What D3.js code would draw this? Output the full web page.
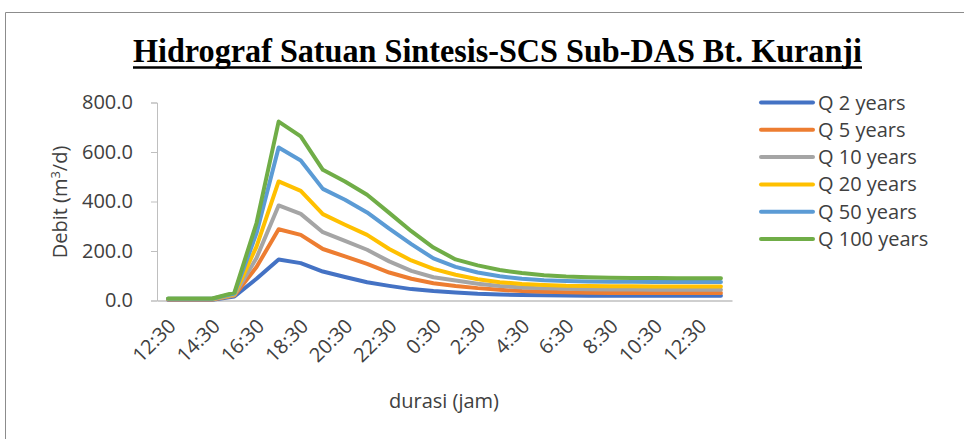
<!DOCTYPE html>
<html>
<head>
	<script src="https://cdn.jsdelivr.net/npm/d3@7"></script>
	<style>
		body { margin: 0; background: white; }
		text { font-family: "Open Sans", "Noto Sans", sans-serif; fill: #404040; }
	</style>
</head>
<body>
	<script>

		var width = 964, height = 439;

		// hourly time steps (category axis), labelled every other step
		var categories = ["12:30", "13:30", "14:30", "15:30", "16:30", "17:30", "18:30", "19:30",
		                  "20:30", "21:30", "22:30", "23:30", "0:30", "1:30", "2:30", "3:30",
		                  "4:30", "5:30", "6:30", "7:30", "8:30", "9:30", "10:30", "11:30",
		                  "12:30 ", "13:30 "];

		var seriesNames = ["Q 2 years", "Q 5 years", "Q 10 years", "Q 20 years", "Q 50 years", "Q 100 years"];
		var seriesColors = ["#4472C4", "#ED7D31", "#A5A5A5", "#FFC000", "#5B9BD5", "#70AD47"];

		var q2   = [3, 3, 3, 16, 88, 166, 151, 117, 95, 74, 59, 46, 38, 32, 27, 24, 22, 21, 20, 19, 19, 19, 19, 19, 19, 19];
		var q5   = [4, 4, 4, 20, 135, 288, 265, 208, 178, 148, 113, 88, 70, 59, 50, 43, 38, 35, 33, 31, 30, 30, 30, 30, 30, 30];
		var q10  = [5, 5, 5, 22, 172, 384, 350, 276, 241, 205, 158, 120, 94, 81, 68, 59, 53, 49, 47, 45, 44, 44, 43, 43, 43, 43];
		var q20  = [6, 6, 6, 25, 218, 481, 443, 349, 306, 265, 208, 162, 128, 104, 86, 74, 67, 63, 60, 59, 58, 58, 57, 57, 57, 57];
		var q50  = [7, 7, 7, 28, 272, 618, 566, 451, 407, 356, 290, 228, 170, 136, 113, 98, 88, 82, 79, 77, 76, 76, 75, 75, 75, 75];
		var q100 = [8, 8, 8, 32, 313, 723, 663, 528, 481, 427, 354, 280, 214, 166, 142, 123, 111, 102, 97, 94, 92, 91, 91, 90, 90, 90];

		var allSeries = [q2, q5, q10, q20, q50, q100];

		var yTicks = [0, 200, 400, 600, 800];

		var svg = d3.select("body").append("svg")
			.attr("width", width)
			.attr("height", height);

		// chart border (only top and left edges show)
		svg.append("path")
			.attr("d", "M5.5," + height + " V12.5 H" + width)
			.attr("fill", "none")
			.attr("stroke", "#8c8c8c")
			.attr("stroke-width", 1);

		// title
		svg.append("text")
			.attr("x", 133)
			.attr("y", 62)
			.attr("textLength", 729)
			.attr("lengthAdjust", "spacingAndGlyphs")
			.style("font-family", "'Liberation Serif', 'Times New Roman', serif")
			.style("font-weight", "bold")
			.style("font-size", "33px")
			.style("fill", "#000")
			.text("Hidrograf Satuan Sintesis-SCS Sub-DAS Bt. Kuranji");

		svg.append("line")
			.attr("x1", 133).attr("x2", 862)
			.attr("y1", 67.5).attr("y2", 67.5)
			.attr("stroke", "#000")
			.attr("stroke-width", 2.5);

		// scales
		var axisLeft = 157, axisRight = 732;
		var x = d3.scaleBand().domain(categories).range([axisLeft, axisRight]);
		var cx = function(c) { return x(c) + x.bandwidth() / 2; };
		var y = d3.scaleLinear().domain([0, 800]).range([300.5, 102.5]);

		// y axis
		var yAxis = svg.append("g")
			.attr("transform", "translate(" + axisLeft + ",0)")
			.call(d3.axisLeft(y).tickValues(yTicks).tickSize(6).tickPadding(5)
				.tickFormat(d3.format(".1f")));
		yAxis.select(".domain").attr("stroke", "#bfbfbf");
		yAxis.selectAll(".tick line").attr("stroke", "#bfbfbf");
		yAxis.selectAll(".tick text")
			.style("font-size", "20px")
			.style("fill", "#404040")
			.style("font-family", "'Open Sans', sans-serif")
			.attr("x", -24);

		// x axis
		var xAxis = svg.append("g")
			.attr("transform", "translate(0," + y(0) + ")")
			.call(d3.axisBottom(x)
				.tickValues(categories.filter(function(d, i) { return i % 2 == 0; }))
				.tickSize(0)
				.tickFormat(function(d) { return d.trim(); }));
		xAxis.select(".domain").attr("stroke", "#bfbfbf").attr("stroke-width", 1.5);
		xAxis.selectAll(".tick text")
			.attr("text-anchor", "end")
			.attr("y", 0)
			.attr("dy", "0.35em")
			.attr("transform", "translate(4,22) rotate(-45)")
			.style("font-size", "20px")
			.style("fill", "#404040")
			.style("font-family", "'Open Sans', sans-serif");

		// axis titles
		svg.append("text")
			.attr("x", 444)
			.attr("y", 408)
			.attr("text-anchor", "middle")
			.style("font-size", "20px")
			.text("durasi (jam)");

		var yTitle = svg.append("text")
			.attr("transform", "translate(67,202) rotate(-90)")
			.attr("text-anchor", "middle")
			.style("font-size", "20px");
		yTitle.append("tspan").text("Debit (m");
		yTitle.append("tspan").attr("dy", -7).style("font-size", "13px").text("3");
		yTitle.append("tspan").attr("dy", 7).text("/d)");

		// lines
		var line = d3.line()
			.x(function(d, i) { return cx(categories[i]); })
			.y(function(d) { return y(d); });

		svg.append("g").selectAll("path")
			.data(allSeries)
			.enter().append("path")
			.attr("d", line)
			.attr("fill", "none")
			.attr("stroke", function(d, i) { return seriesColors[i]; })
			.attr("stroke-width", 4)
			.attr("stroke-linejoin", "round")
			.attr("stroke-linecap", "round");

		// legend
		var legend = svg.append("g").selectAll("g")
			.data(seriesNames)
			.enter().append("g")
			.attr("transform", function(d, i) {
				return "translate(761," + (102.5 + i * 27.3) + ")";
			});

		legend.append("line")
			.attr("x1", 0).attr("x2", 52)
			.attr("stroke", function(d, i) { return seriesColors[i]; })
			.attr("stroke-width", 4)
			.attr("stroke-linecap", "round");

		legend.append("text")
			.attr("x", 57)
			.attr("dy", "0.35em")
			.style("font-size", "20px")
			.text(function(d) { return d; });

	</script>
</body>
</html>
